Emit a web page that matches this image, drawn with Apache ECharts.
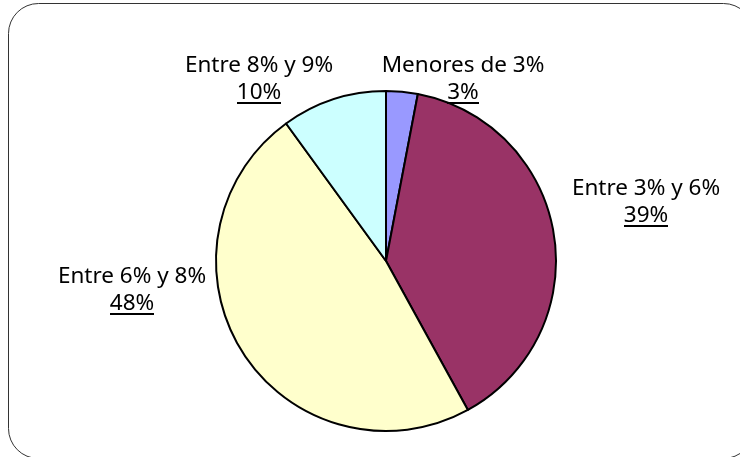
<!DOCTYPE html>
<html>
<head>
<meta charset="utf-8">
<script src="https://cdn.jsdelivr.net/npm/echarts@6/dist/echarts.min.js"></script>
<style>
  html, body { margin: 0; padding: 0; background: #fff; }
  #chart { width: 740px; height: 457px; }
</style>
</head>
<body>
<div id="chart"></div>
<script>
// datos del grafico
var categorias = ['Menores de 3%', 'Entre 3% y 6%', 'Entre 6% y 8%', 'Entre 8% y 9%'];
var valores = [3, 39, 48, 10];
var colores = ['#9999FF', '#993366', '#FFFFCC', '#CCFFFF'];

// posicion de cada etiqueta (centro del bloque de texto)
var posEtiquetas = [[463, 79], [646, 202], [132, 290], [259, 79]];

// imagen para simular el subrayado del porcentaje
var subrayado = document.createElement('canvas');
subrayado.width = 10;
subrayado.height = 27;
var ctx = subrayado.getContext('2d');
ctx.fillStyle = '#000';
ctx.fillRect(0, 23, 10, 2);

var myChart = echarts.init(document.getElementById('chart'));

var option = {
  backgroundColor: '#fff',
  animation: false,
  graphic: [{
    type: 'rect',
    shape: { x: 8.5, y: 3.5, width: 745, height: 455, r: 30 },
    style: { fill: 'none', stroke: '#333', lineWidth: 1 },
    silent: true
  }],
  series: [{
    type: 'pie',
    center: [386, 261],
    radius: 170,
    startAngle: 90,
    clockwise: true,
    data: categorias.map(function (c, i) {
      return { name: c, value: valores[i], itemStyle: { color: colores[i] } };
    }),
    itemStyle: { borderColor: '#000', borderWidth: 2 },
    emphasis: { disabled: true },
    labelLine: { show: false },
    label: {
      show: true,
      position: 'outside',
      overflow: 'none',
      color: '#000',
      fontFamily: 'Noto Sans',
      fontSize: 22.5,
      lineHeight: 27,
      align: 'center',
      formatter: function (p) {
        return p.name + '\n{u|' + Math.round(p.percent) + '%}';
      },
      rich: {
        u: {
          fontFamily: 'Noto Sans',
          fontSize: 22.5,
          lineHeight: 27,
          color: '#000',
          height: 27,
          backgroundColor: { image: subrayado }
        }
      }
    },
    labelLayout: function (params) {
      var p = posEtiquetas[params.dataIndex];
      return { x: p[0], y: p[1], align: 'center', verticalAlign: 'middle' };
    }
  }]
};

myChart.setOption(option);
</script>
</body>
</html>
